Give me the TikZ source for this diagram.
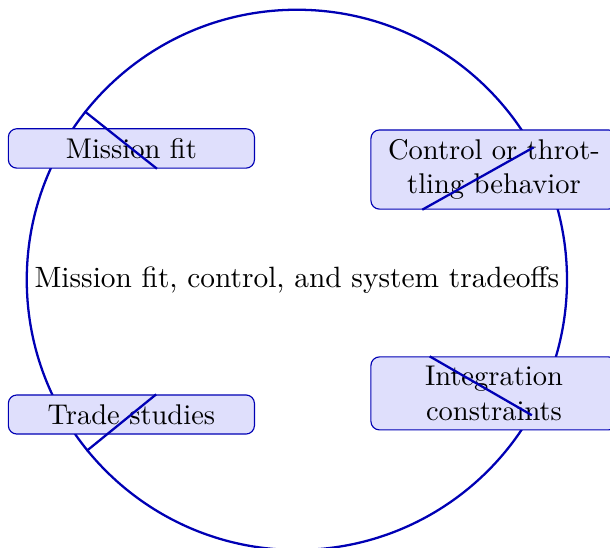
\documentclass[tikz,border=0pt]{standalone}
\usepackage{xcolor}
\definecolor{lineblue}{HTML}{0000B4}
\definecolor{boxfill}{HTML}{DFDFFC}

\begin{document}
\begin{tikzpicture}[
  hub/.style={
    circle, draw=lineblue, thick,
    minimum size=6.66cm, inner sep=1pt,
    font=\fontsize{10.3}{12.4}\selectfont
  },
  topic/.style={
    rectangle, rounded corners=3pt, draw=lineblue, fill=boxfill,
    text width=2.8cm, align=center
  },
  link/.style={draw=lineblue, thick},
]
  \useasboundingbox (-3.66,-3.30) rectangle (3.86,3.45);

  \node[hub] (hub) at (0, 0) {Mission fit, control, and system tradeoffs};

  \node[topic] (fit)     at (-2.04, 1.62)  {Mission fit};
  \node[topic] (control) at (2.43, 1.36)   {Control or throttling behavior};
  \node[topic] (trade)   at (-2.04, -1.66) {Trade studies};
  \node[topic] (integ)   at (2.43, -1.40)  {Integration constraints};

  \draw[link] (hub) -- (fit);
  \draw[link] (hub) -- (control);
  \draw[link] (hub) -- (trade);
  \draw[link] (hub) -- (integ);
\end{tikzpicture}
\end{document}
